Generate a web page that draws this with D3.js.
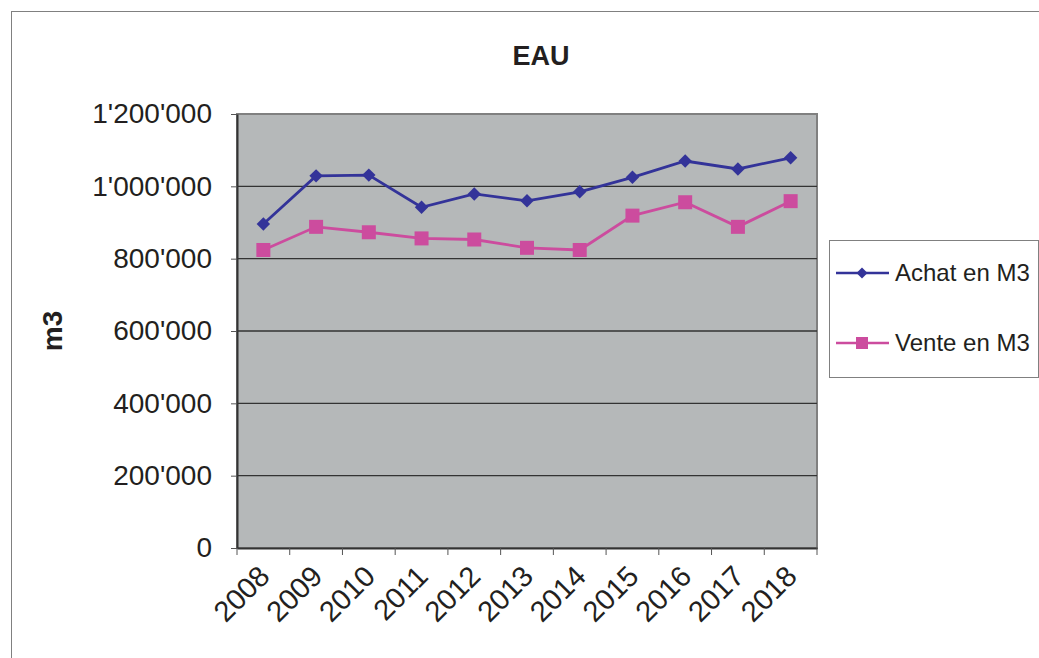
<!DOCTYPE html>
<html>
<head>
<meta charset="utf-8">
<script src="https://cdn.jsdelivr.net/npm/d3@7/dist/d3.min.js"></script>
<style>
html,body{margin:0;padding:0;background:#fff;}
svg{display:block;font-family:"Liberation Sans",Arial,sans-serif;}
</style>
</head>
<body>
<svg id="chart" width="1039" height="658"></svg>
<script>
const years = ["2008","2009","2010","2011","2012","2013","2014","2015","2016","2017","2018"];
const achat = [896000,1029000,1031000,942000,979000,960000,985000,1025000,1070000,1048000,1079000];
const vente = [824000,888000,873000,856000,853000,830000,824000,919000,956000,888000,959000];
const yTicks = [0,200000,400000,600000,800000,1000000,1200000];
const seriesNames = ["Achat en M3","Vente en M3"];
const colors = ["#333399","#cc4c9e"];

const svg = d3.select("#chart");
const L = 237, R = 817, T = 114, B = 548;

const x = d3.scaleBand().domain(years).range([L, R]).paddingInner(0).paddingOuter(0);
const y = d3.scaleLinear().domain([0, 1200000]).range([B, T]);
const fmt = d3.formatLocale({decimal: ".", thousands: "'", grouping: [3], currency: ["", ""]}).format(",");

// outer frame
svg.append("rect").attr("x", 11.5).attr("y", 11.5).attr("width", 1100).attr("height", 700)
  .attr("fill", "none").attr("stroke", "#808080").attr("stroke-width", 1);

// title
svg.append("text").attr("x", 541).attr("y", 65).attr("text-anchor", "middle")
  .attr("font-size", 27).attr("font-weight", "bold").attr("fill", "#231f20").text("EAU");

// plot background
svg.append("rect").attr("x", L).attr("y", T).attr("width", R - L).attr("height", B - T)
  .attr("fill", "#b5b8b9").attr("stroke", "#808080").attr("stroke-width", 2);

// gridlines
svg.append("g").selectAll("line").data(yTicks.filter(d => d > 0 && d < 1200000)).join("line")
  .attr("x1", L).attr("x2", R).attr("y1", d => y(d)).attr("y2", d => y(d))
  .attr("stroke", "#333333").attr("stroke-width", 1.3);

// y axis
const yAxis = d3.axisLeft(y).tickValues(yTicks).tickFormat(d => fmt(d)).tickSizeInner(6).tickSizeOuter(0).tickPadding(19);
const gy = svg.append("g").attr("transform", `translate(${L},0)`).call(yAxis);
gy.select(".domain").attr("stroke", "#333").attr("stroke-width", 2);
gy.selectAll(".tick line").attr("stroke", "#555").attr("stroke-width", 1);
gy.selectAll(".tick text").attr("font-size", 28).attr("fill", "#231f20")
  .attr("font-family", "'Liberation Sans', Arial, sans-serif");

// x axis
const xAxis = d3.axisBottom(x).tickSize(0).tickFormat("");
const gx = svg.append("g").attr("transform", `translate(0,${B})`).call(xAxis);
gx.select(".domain").attr("stroke", "#333").attr("stroke-width", 2);
// tick marks at band boundaries
const bounds = years.map(d => x(d)).concat([x(years[years.length - 1]) + x.bandwidth()]);
svg.append("g").selectAll("line").data(bounds).join("line")
  .attr("x1", d => d).attr("x2", d => d).attr("y1", B).attr("y2", B + 7)
  .attr("stroke", "#555").attr("stroke-width", 1);
// x labels
svg.append("g").selectAll("text").data(years).join("text")
  .attr("transform", d => `translate(${x(d) + x.bandwidth() / 2 + 8},${B + 30}) rotate(-45)`)
  .attr("text-anchor", "end").attr("dy", "0")
  .attr("font-size", 29).attr("fill", "#231f20").text(d => d);

// y axis title
svg.append("text").attr("transform", "translate(62,331) rotate(-90)").attr("text-anchor", "middle")
  .attr("font-size", 28).attr("font-weight", "bold").attr("fill", "#231f20").text("m3");

// lines
const cx = d => x(d) + x.bandwidth() / 2;
const line = d3.line().x((d, i) => cx(years[i])).y(d => y(d));
svg.append("path").datum(achat).attr("d", line).attr("fill", "none").attr("stroke", colors[0]).attr("stroke-width", 2.8);
svg.append("path").datum(vente).attr("d", line).attr("fill", "none").attr("stroke", colors[1]).attr("stroke-width", 2.8);

svg.append("g").selectAll("path").data(achat).join("path")
  .attr("d", d3.symbol().type(d3.symbolSquare).size(90))
  .attr("transform", (d, i) => `translate(${cx(years[i])},${y(d)}) rotate(45)`)
  .attr("fill", colors[0]);
svg.append("g").selectAll("rect").data(vente).join("rect")
  .attr("x", (d, i) => cx(years[i]) - 7).attr("y", d => y(d) - 7)
  .attr("width", 14).attr("height", 14).attr("fill", colors[1]);

// legend
svg.append("rect").attr("x", 829.5).attr("y", 240.5).attr("width", 209).attr("height", 137)
  .attr("fill", "#fff").attr("stroke", "#808080").attr("stroke-width", 1);
const ly = [273, 343];
seriesNames.forEach((name, i) => {
  svg.append("line").attr("x1", 836).attr("x2", 889).attr("y1", ly[i]).attr("y2", ly[i])
    .attr("stroke", colors[i]).attr("stroke-width", 2.5);
  if (i === 0) {
    svg.append("path").attr("d", d3.symbol().type(d3.symbolSquare).size(60)())
      .attr("transform", `translate(862,${ly[i]}) rotate(45)`).attr("fill", colors[i]);
  } else {
    svg.append("rect").attr("x", 856).attr("y", ly[i] - 6).attr("width", 12).attr("height", 12).attr("fill", colors[i]);
  }
  svg.append("text").attr("x", 895).attr("y", ly[i]).attr("dy", "0.35em")
    .attr("font-size", 24).attr("fill", "#231f20").text(name);
});
</script>
</body>
</html>
